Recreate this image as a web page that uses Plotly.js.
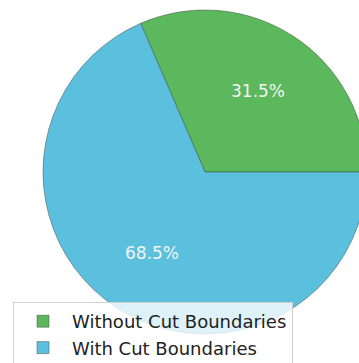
<!DOCTYPE html>
<html>
<head>
<meta charset="utf-8">
<script src="https://cdn.plot.ly/plotly-3.0.1.min.js"></script>
<style>
html,body{margin:0;padding:0;overflow:hidden;width:359px;height:363px;background:#fff;}
#chart{width:410px;height:363px;}
</style>
</head>
<body>
<div id="chart"></div>
<script>
const labels = ["Without Cut Boundaries", "With Cut Boundaries"];
const values = [31.5, 68.5];
const colors = ["#5cb85c", "#5bc0de"];

const W = 410, H = 363, MT = 10, MB = 29;
const plotH = H - MT - MB;
const total = values.reduce((a, b) => a + b, 0);
// first slice starts at 3 o'clock and runs counterclockwise (matplotlib default)
const rot = 90 - values[0] / total * 360;

const trace = {
  type: "pie",
  labels: labels,
  values: values,
  sort: false,
  direction: "clockwise",
  rotation: rot,
  marker: {colors: colors, line: {color: "rgba(60,60,60,0.45)", width: 1}},
  textposition: "none",
  hoverinfo: "label+percent",
  domain: {x: [0, 1], y: [0, 1]}
};

// percentage labels at 0.6 of the radius, at each wedge's mid angle
const rPx = Math.min(W, plotH) / 2;
const annotations = [];
let acc = 0;
values.forEach((v, i) => {
  const mid = (acc + v / 2) / total * 2 * Math.PI;
  acc += v;
  annotations.push({
    xref: "paper", yref: "paper",
    x: 0.5 + 0.6 * rPx * Math.cos(mid) / W,
    y: 0.5 + 0.6 * rPx * Math.sin(mid) / plotH,
    text: (v / total * 100).toFixed(1) + "%",
    showarrow: false,
    xanchor: "center", yanchor: "middle",
    font: {family: "DejaVu Sans", size: 17, color: "#f4f4f4"}
  });
});

const layout = {
  width: W,
  height: H,
  margin: {l: 0, r: 0, t: MT, b: MB, pad: 0, autoexpand: false},
  paper_bgcolor: "#ffffff",
  plot_bgcolor: "#ffffff",
  showlegend: true,
  annotations: annotations,
  legend: {
    x: 13 / W, y: (MB + 3) / plotH, xanchor: "left", yanchor: "top",
    bgcolor: "rgba(255,255,255,0.8)",
    bordercolor: "#d0d0d0", borderwidth: 1,
    font: {family: "DejaVu Sans", size: 18, color: "#222"},
    itemwidth: 48
  }
};

Plotly.newPlot("chart", [trace], layout, {displayModeBar: false, staticPlot: true});
</script>
</body>
</html>
